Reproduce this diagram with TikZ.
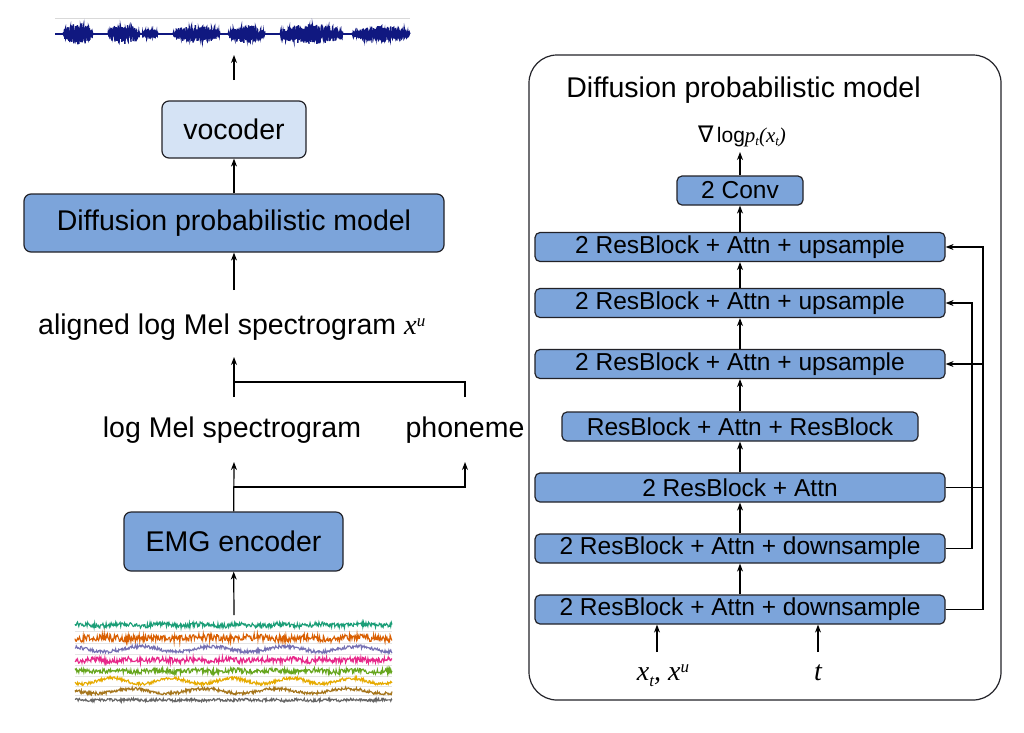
\documentclass[tikz,border=0pt]{standalone}
\usepackage{fontspec}
\setmainfont{Liberation Sans}
\newfontfamily\tms{Liberation Serif}
\newfontfamily\djv{DejaVu Sans}
\usetikzlibrary{arrows.meta}
\definecolor{boxblue}{RGB}{124,164,218}
\definecolor{boxlight}{RGB}{213,227,245}
\definecolor{boxline}{RGB}{34,34,40}
\definecolor{wavenavy}{RGB}{16,24,128}
\definecolor{emga}{RGB}{27,158,119}
\definecolor{emgb}{RGB}{217,95,2}
\definecolor{emgc}{RGB}{117,112,179}
\definecolor{emgd}{RGB}{231,41,138}
\definecolor{emge}{RGB}{102,166,30}
\definecolor{emgf}{RGB}{230,171,2}
\definecolor{emgg}{RGB}{166,118,29}
\definecolor{emgh}{RGB}{102,102,102}
\newcommand{\subt}[1]{\raisebox{-6pt}{\fontsize{17}{17}\selectfont #1}}
\newcommand{\supu}[1]{\raisebox{8pt}{\fontsize{17}{17}\selectfont #1}}
\begin{document}
\begin{tikzpicture}[x=1pt,y=-1pt,
  blk/.style={draw=boxline,line width=1.2pt,rounded corners=7pt,fill=boxblue,
    inner sep=0pt,font=\fontsize{28.5}{30}\selectfont},
  rblk/.style={blk,rounded corners=5pt,minimum height=29pt,
    font=\fontsize{24.5}{26}\selectfont},
  arr/.style={-{Stealth[length=8pt,width=6pt]},line width=1.2pt},
  lbl/.style={inner sep=0pt,font=\fontsize{28.5}{30}\selectfont}]
\useasboundingbox (0,0) rectangle (1024,732);

% waveform on top
\pgfmathsetseed{11}
\draw[gray!30,line width=0.6pt] (55,18) -- (410,18);
\draw[wavenavy,line width=1.2pt] (55,34) -- (410,34);
\foreach \a/\b/\h in {63/93/11,108/140/10,142/158/5,173/220/9,228/265/9,280/343/10,352/410/8}{
  \pgfmathtruncatemacro{\ns}{4*(\b-\a)}
  \draw[wavenavy,line width=1.3pt] plot[domain=\a:\b,samples=\ns]
    (\x,{34+\h*(sin(180*(\x-\a)/(\b-\a)))^0.4*(0.55+0.45*rand)*(-1)^(round(2*\x))});
}

% left column
\node[blk,fill=boxlight,minimum width=144pt,minimum height=57pt] (voc) at (234,129.5) {vocoder};
\node[blk,minimum width=420pt,minimum height=58pt] (dpm) at (234,223) {Diffusion probabilistic model};
\node[lbl,anchor=base west] (aligned) at (38,334) {aligned log Mel spectrogram {\tms\itshape x\supu{u}}};
\node[lbl,anchor=base] (logmel) at (232,437) {log Mel spectrogram};
\node[lbl,anchor=base] (phon) at (465,437) {phoneme};
\node[blk,minimum width=219pt,minimum height=59pt] (emg) at (233.5,541.5) {EMG encoder};

\coordinate (wavein) at (234,80);
\coordinate (waveout) at (234,55);
\coordinate (alout) at (234,290);
\coordinate (mtop) at (234,397);
\coordinate (ptop) at (465,397);
\coordinate (fork) at (234,382);
\coordinate (altip) at (234,357);
\coordinate (mbot) at (234,462);
\coordinate (pbot) at (465,462);
\coordinate (fork2) at (234,487);
\coordinate (emgin) at (234,615);

\draw[arr] (wavein) -- (waveout);
\draw[arr] (dpm) -- (voc);
\draw[arr] (alout) -- (dpm);
\draw[arr] (mtop) -- (altip);
\draw[line width=1.2pt] (ptop) |- (fork);
\draw[arr] (emg) -- (mbot);
\draw[arr] (fork2) -| (pbot);
\draw[arr] (emgin) -- (emg);

% EMG signals
\foreach \y in {631.5,643.5,654.5,665.5,676,686,695.5}
  \draw[gray!20,line width=0.5pt] (75,\y) -- (392,\y);
\foreach \y/\c/\n/\s/\f in {625/emga/2.4/0.8/9,638/emgb/3.6/0.8/7,
    649/emgc/1.8/2.6/5,660/emgd/2.8/0.8/11,
    671/emge/2.4/0.8/9,681/emgf/1.6/2.8/6,
    691/emgg/1.6/2.4/5,700/emgh/1.4/0.5/13}
  \draw[\c,line width=1.1pt] plot[domain=75:392,samples=500]
    (\x,{\y+\n*rand+\s*sin(\f*\x+\y)});

% right panel
\draw[boxline,line width=1.2pt,rounded corners=28pt] (529,55) rectangle (1001,700);
\node[lbl,anchor=base] (title) at (743.5,97) {Diffusion probabilistic model};
\node[inner sep=0pt,anchor=base,font=\fontsize{21}{22}\selectfont] (grad) at (742,142)
  {{\djv\fontsize{23}{24}\selectfont ∇}\,log{\tms\itshape p\raisebox{-3pt}{\fontsize{13}{13}\selectfont t}(x\raisebox{-3pt}{\fontsize{13}{13}\selectfont t})}};

\node[rblk,minimum width=126pt] (conv) at (740,190.5) {2 Conv};
\node[rblk,minimum width=410pt] (up1) at (740,247) {2 ResBlock + Attn + upsample};
\node[rblk,minimum width=410pt] (up2) at (740,303) {2 ResBlock + Attn + upsample};
\node[rblk,minimum width=410pt] (up3) at (740,364) {2 ResBlock + Attn + upsample};
\node[rblk,minimum width=356pt] (mid) at (740,426.5) {ResBlock + Attn + ResBlock};
\node[rblk,minimum width=410pt] (att) at (740,487.5) {2 ResBlock + Attn};
\node[rblk,minimum width=410pt] (down1) at (740,548.5) {2 ResBlock + Attn + downsample};
\node[rblk,minimum width=410pt] (down2) at (740,609.5) {2 ResBlock + Attn + downsample};

\node[inner sep=0pt,anchor=base,font=\fontsize{28}{30}\selectfont] (xin) at (663,680)
  {\tms\itshape x\subt{t}, x\supu{u}};
\node[inner sep=0pt,anchor=base,font=\fontsize{28}{30}\selectfont] (tin) at (818,680)
  {\tms\itshape t};

\coordinate (gradtip) at (740,152);
\coordinate (xtail) at (657,652);
\coordinate (ttail) at (818,652);
\coordinate (sa) at (983,0);
\coordinate (sb) at (972,0);

\draw[arr] (conv) -- (gradtip);
\draw[arr] (up1) -- (conv);
\draw[arr] (up2) -- (up1);
\draw[arr] (up3) -- (up2);
\draw[arr] (mid) -- (up3);
\draw[arr] (att) -- (mid);
\draw[arr] (down1) -- (att);
\draw[arr] (down2) -- (down1);
\draw[arr] (xtail) -- (xtail |- down2.south);
\draw[arr] (ttail) -- (ttail |- down2.south);

% skip connections
\draw[arr] (down2.east) -- (down2.east -| sa) -- (up1.east -| sa) -- (up1.east);
\draw[line width=1.2pt] (att.east) -- (att.east -| sa);
\draw[arr] (up3.east -| sa) -- (up3.east);
\draw[arr] (down1.east) -- (down1.east -| sb) -- (up2.east -| sb) -- (up2.east);
\end{tikzpicture}
\end{document}
